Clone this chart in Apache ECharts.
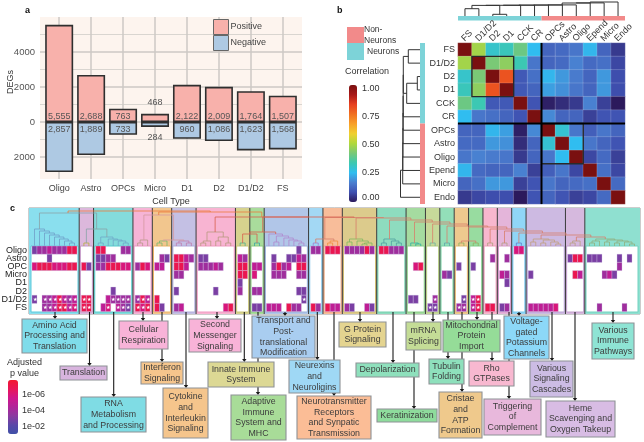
<!DOCTYPE html>
<html><head><meta charset="utf-8">
<style>html,body{margin:0;padding:0;background:#fff}#c{width:644px;height:442px}</style>
<script src="https://cdn.jsdelivr.net/npm/echarts@6/dist/echarts.min.js"></script>
</head><body><div id="c"></div>
<script>
// ---------- panel a data
const cellTypes = ['Oligo','Astro','OPCs','Micro','D1','D2','D1/D2','FS'];
const positiveDEGs = [5555,2688,763,468,2122,2009,1764,1507];
const negativeDEGs = [2857,1889,733,284,960,1086,1623,1568];
const majorTicks = [-2000,0,2000,4000];
const minorTicks = [-1000,1000,3000,5000];
// ---------- panel b data
const corrNames = ['FS','D1/D2','D2','D1','CCK','CR','OPCs','Astro','Oligo','Epend','Micro','Endo'];
const corrFS    = [1,.48,.3,.32,.4,.25,.12,.13,.15,.24,.12,.05];
const corrD1D2  = [.48,1,.42,.45,.33,.15,.12,.13,.17,.13,.14,.07];
const corrD2    = [.3,.42,1,.8,.1,.14,.24,.2,.16,.12,.2,.08];
const corrD1    = [.32,.45,.8,1,.1,.12,.21,.19,.15,.12,.2,.08];
const corrCCK   = [.4,.33,.1,.1,1,.09,.01,.03,.05,.17,.06,0];
const corrCR    = [.25,.15,.14,.12,.09,1,.18,.12,.12,.06,.09,.09];
const corrOPC   = [.12,.12,.24,.21,.01,.18,1,.29,.15,.11,.15,.12];
const corrAstro = [.13,.13,.2,.19,.03,.12,.29,1,.25,.15,.12,.09];
const corrOligo = [.15,.17,.16,.15,.05,.12,.15,.25,1,.07,.13,.06];
const corrEpend = [.24,.13,.12,.12,.17,.06,.11,.15,.07,1,.14,.07];
const corrMicro = [.12,.14,.2,.2,.06,.09,.15,.12,.13,.14,1,.13];
const corrEndo  = [.05,.07,.08,.08,0,.09,.12,.09,.06,.07,.13,1];
const corrTreeTop = [14,[13.1,[13,[11.1,[11,[10.9,[10.8,[10.7,[10.6,[7.3,0,1],[1.7,2,3]],4],5],6],7],8],9],10],11];
const corrTreeLeft = [19.5,[17.3,[17.2,[17.1,[17,[16.9,[16.8,[16.7,[11.7,0,1],[13.3,[2.7,2,3],4]],5],6],7],8],9],10],11];
const corrOutlines = [[1,1,4,4],[6,6,9,9]];
const corrDividers = [[6,0,6,12],[0,6,12,6]];
const corrGroupSpans = [[0,6,'#7dd3d8'],[6,12,'#f28a8a']];
// ---------- panel c data: each row has one text per pathway cluster; digit = -log10(adjusted p)
const pathwayRows = ['Oligo','Astro','OPC','Micro','D1','D2','D1/D2','FS'];
const rowOligo = '344544477|..|77...44|...|...|....|.......|..|..|......3.|44|777|444474|77444|...|..|..|..|..|..|..|66|.......|...|..........';
const rowAstro = '...3.....|..|3344...|...|.43|7754|33.....|54|..|.3..3354|..|...|......|.....|...|..|..|..|..|.4|.4|..|.......|377|333...3.3.';
const rowOPC   = '677766677|73|4477766|476|55.|775.|44454..|77|55|.4745.77|..|...|......|.....|.67|..|..|3.|3.|..|..|..|.......|...|......4...';
const rowMicro = '.........|..|.......|...|...|44..|.......|77|6.|.444..44|..|...|......|.....|...|..|43|..|..|..|54|..|3......|.75|...453....';
const rowD1    = '.........|..|.......|...|...|....|.......|3.|..|........|..|...|......|.....|...|..|..|..|..|..|.3|..|.......|...|..........';
const rowD2    = '.........|..|...3...|...|...|3...|...3...|4.|44|......33|..|...|......|.....|...|..|..|..|..|..|..|..|.......|...|..........';
const rowD1D2  = '3.4457545|77|..54444|475|7..|....|.......|..|..|.......3|..|...|......|.....|33.|.4|..|.3|57|..|..|..|.......|...|..........';
const rowFS    = '..4457756|77|.56.543|767|73.|45..|.....67|..|33|555.744.|74|755|43..53|.....|...|33|..|44|57|77|34|..|555556.|...|..4....4..';
const starD1D2 = '*.*******|**|...****|***|...|....|.......|..|..|.......*|..|...|......|.....|...|.*|..|.*|**|..|..|..|.......|...|..........';
const starFS   = '..*******|**|..*.***|***|...|....|.......|..|..|........|..|...|......|.....|...|**|..|**|**|..|..|..|.......|...|..........';
const clusterTrees = [
 [17,0,[15,1,[13,2,[11,3,[9,4,[7,5,[5,6,[3,7,8]]]]]]]],[3,0,1],[9,[3,0,1],[7,2,[6,3,[5,4,[3,5,6]]]]],
 [6,[3,0,1],2],[5,[3,0,1],2],[5,[3,0,1],[3,2,3]],[14,[5,[3,0,1],2],[9,[5,3,4],[3,5,6]]],[3,0,1],[3,0,1],
 [12,0,[10,[4,1,2],[8,3,[6,4,[5,5,[3,6,7]]]]]],[3,0,1],[5,[3,0,1],2],[7,[4,0,1],[5,2,[3,[2,3,4],5]]],
 [7,[3,0,1],[5,2,[3,3,4]]],[3,0,[2,1,2]],[3,0,1],[3,0,1],[3,0,1],[3,0,1],[3,0,1],[3,0,1],[3,0,1],
 [7,[4,0,1],[6,[3,2,3],[4,4,[2,5,6]]]],[5,[3,0,1],2],[7,[5,[3,0,1],2],[6,[4,3,4],[5,[3,5,6],[4,7,[2,8,9]]]]]
];
const branchFarRight = [17,'c19',[15,'c20',[13,'c21',[11,'c22',[9,'c23','c24']]]]];
const branchMidRight = [26,'c13',[24,'c14',[22,'c15',[20,'c16',[19,[5,'c17','c18'],branchFarRight]]]]];
const branchRight = [28.5,[7,'c10','c11'],[28,'c12',branchMidRight],'#d77f6c'];
const branchMid = [29,'c6',[29,[14,[12,'c7','c8'],'c9'],branchRight],'#d8604e'];
const branchLeft = [33,'c0',[17,'c1','c2'],'#8aa3a8'];
const branchInner = [31,'c3',[6,'c4','c5'],'#d59aa0'];
const clusterTreeTop = [35,branchLeft,[34,branchInner,branchMid],'#ec7a3c'];
const clusterFill = ['#8adfee','#dcb8dc','#84dcdc','#f6b4d6','#f2c68e','#c4c0e4','#f8b4d2','#d6d28e','#a9dc9c','#b1c6e8','#a3d8f4','#f8bd9a','#dccb8c','#8edcbf','#a5dba0','#c7d99a','#93dfb9','#eec98e','#98dca0','#f8b7ce','#e4b5da','#90d6f7','#cdbae2','#d6b9de','#8fe0d0'];
const clusterEdge = ['#5cc8da','#c49ac8','#56cccc','#eb97c4','#edb267','#aeaadb','#f099c2','#c8c478','#8ccb7e','#98b0da','#88c6ea','#eea67e','#cfbb70','#74cfae','#88cd86','#b4cb80','#78d2a4','#e4b872','#80cf8a','#ef9dbb','#d89ccc','#74c6ee','#b9a2d4','#c29ecc','#72d2c0'];
const clusterLine = ['#6f9fc8','#b8b040','#6fa8c8','#b89a88','#78b870','#c080b0','#b89a80','#50b090','#40a8a0','#b08ad0','#a080d0','#f09040','#80b860','#50a0a0','#30b0a0','#70b0a0','#60a8a8','#90b060','#90b060','#b0a080','#b0a080','#6080d0','#c0a080','#b8a080','#90b080'];
// ---------- pathway labels: text, x, y, w, h, fill
const pathwayBoxes = [
 ['Amino Acid\nProcessing and\nTranslation',22,319,65,34,'#7fdcea'],['Translation',60,366,47,14,'#d8b4de'],
 ['RNA\nMetabolism\nand Processing',81,397,65,35,'#7fdce4'],['Cellular\nRespiration',119,321,49,28,'#f8b3d8'],
 ['Interferon\nSignaling',141,362,42,22,'#f5c58c'],['Cytokine\nand\nInterleukin\nSignaling',163,388,45,50,'#f5c58c'],
 ['Second\nMessenger\nSignaling',189,319,52,33,'#f8b3d8'],['Innate Immune\nSystem',208,362,66,25,'#dcd894'],
 ['Transport and\nPost-\ntranslational\nModification',252,316,63,42,'#a9cdf0'],['Adaptive\nImmune\nSystem and\nMHC',231,395,55,45,'#a8dc98'],
 ['Neurexins\nand\nNeuroligins',289,360,51,33,'#9fd8f5'],['Neurotransmitter\nReceptors\nand Synpatic\nTransmission',297,396,74,43,'#fbbd96'],
 ['G Protein\nSignaling',339,322,47,25,'#e4d490'],['mRNA\nSplicing',406,322,35,28,'#c4dc96'],
 ['Mitochondrial\nProtein\nImport',443,320,57,32,'#95dc98'],['Voltage-\ngated\nPotassium\nChannels',504,316,45,43,'#8cd8f8'],
 ['Various\nImmune\nPathways',592,323,42,36,'#8ee4d4'],['Depolarization',356,363,63,14,'#8ee0bc'],
 ['Tubulin\nFolding',429,359,35,25,'#8ee0bc'],['Rho\nGTPases',469,361,45,25,'#f8b8d0'],
 ['Various\nSignaling\nCascades',530,361,43,36,'#ccbce4'],['Keratinization',377,409,60,13,'#8edc9c'],
 ['Cristae\nand\nATP\nFormation',439,392,43,46,'#efc98c'],['Triggering\nof\nComplement',484,399,57,36,'#e8b8dc'],
 ['Heme\nScavenging and\nOxygen Takeup',546,401,69,36,'#d8bce4']
];
const pathwayArrows = [[55,319],[89.5,366],[113.7,397],[143,321],[162,362],[186,388],[217,319],[244.3,362],[258,395],[285,316],[317.3,360],[334,396],[360,322],[393,363],[433,322],[414,409],[448,359],[462,392],[477,320],[492,361],[509,399],[519,316],[552,361],[575,401],[613,323]];

// ---------- helpers
const FONT = '"Liberation Sans", Arial, sans-serif';
function flatten(node, leaf, color, out){
  if(!Array.isArray(node)) return leaf(node);
  const c = node[3] || color;
  const l = flatten(node[1], leaf, c, out), r = flatten(node[2], leaf, c, out), h = node[0];
  out.push([l.p,l.h,l.p,h,c],[l.p,h,r.p,h,c],[r.p,r.h,r.p,h,c]);
  return {p:(l.p+r.p)/2, h};
}
function lineRender(segs, width, opacity){
  return (params, api)=>{
    const a = api.coord([api.value(0),api.value(1)]), b = api.coord([api.value(2),api.value(3)]);
    return {type:'line',shape:{x1:a[0],y1:a[1],x2:b[0],y2:b[1]},style:{stroke:segs[params.dataIndex][4],lineWidth:width,opacity}};
  };
}
function segSeries(segs, xi, yi, width, opacity, z){
  return {type:'custom',xAxisIndex:xi,yAxisIndex:yi,z,silent:true,clip:false,coordinateSystem:'cartesian2d',
    encode:{x:[0,2],y:[1,3]},data:segs.map(s=>s.slice(0,4)),renderItem:lineRender(segs,width,opacity)};
}
// heat b
const corrMatrix = [corrFS,corrD1D2,corrD2,corrD1,corrCCK,corrCR,corrOPC,corrAstro,corrOligo,corrEpend,corrMicro,corrEndo];
const corrCells = [];
corrMatrix.forEach((row,y)=>row.forEach((v,x)=>corrCells.push([x,y,v])));
const topSegs=[]; flatten(corrTreeTop,i=>({p:i+.5,h:0}),'#333',topSegs);
const leftSegs=[]; flatten(corrTreeLeft,i=>({p:i+.5,h:0}),'#333',leftSegs);
const leftSegsXY = leftSegs.map(s=>[s[1],s[0],s[3],s[2],s[4]]);
// cluster layout for panel c
const GAP = 0.875;
const clusterRowsCells = [rowOligo,rowAstro,rowOPC,rowMicro,rowD1,rowD2,rowD1D2,rowFS].map(s=>s.split('|'));
const clusterSizes = clusterRowsCells[0].map(s=>s.length);
const clusterStart = []; { let at=0; clusterSizes.forEach((n,i)=>{clusterStart.push(at); at+=n+GAP;}); }
const pCells=[], starCells=[];
clusterRowsCells.forEach((row,r)=>row.forEach((txt,ci)=>[...txt].forEach((ch,j)=>{
  if(ch!=='.') pCells.push([clusterStart[ci]+j,r,+ch]);
})));
[[6,starD1D2],[7,starFS]].forEach(([r,s])=>s.split('|').forEach((txt,ci)=>[...txt].forEach((ch,j)=>{
  if(ch==='*') starCells.push([clusterStart[ci]+j+.5,r+.5]);
})));
const PX_PER_ROW = 8.2;
const clusterSegs=[]; const roots={};
clusterTrees.forEach((t,ci)=>{
  const raw=[]; const rt=flatten(t,j=>({p:clusterStart[ci]+j+.5,h:0}),clusterLine[ci],raw);
  roots['c'+ci]=rt; raw.forEach(s=>clusterSegs.push(s));
});
flatten(clusterTreeTop,k=>roots[k],'#c8906e',clusterSegs);
const cSegs = clusterSegs.map(s=>[s[0],-s[1]/PX_PER_ROW,s[2],-s[3]/PX_PER_ROW,s[4]]);
const bands = clusterSizes.map((n,i)=>[clusterStart[i],clusterStart[i]+n,i]);

const Y_TOP=-38/PX_PER_ROW, Y_BOT=68/PX_PER_ROW;
const hiddenVal = (o)=>Object.assign({type:'value',show:false,splitLine:{show:false},scale:false},o);

const option = {
  animation:false, backgroundColor:'#fff', textStyle:{fontFamily:FONT},
  grid:[
    {left:40,top:17,width:262,height:162,show:true,backgroundColor:'#fdf4ee',borderWidth:0},
    {left:458,top:43,width:167,height:161},
    {left:458,top:1,width:167,height:20},
    {left:400,top:43,width:25,height:161},
    {left:29,top:208,width:611,height:106,show:true,backgroundColor:'transparent',borderColor:'#9a9a9a',borderWidth:1},
    {left:458,top:43,width:167,height:161}
  ],
  xAxis:[
    {gridIndex:0,type:'value',min:-0.6,max:7.6,splitLine:{show:false},axisLine:{show:false},
     axisTick:{show:true,length:3,customValues:[0,1,2,3,4,5,6,7],lineStyle:{color:'#777'}},
     axisLabel:{customValues:[0,1,2,3,4,5,6,7],formatter:v=>cellTypes[v],fontSize:9,color:'#444',margin:5,hideOverlap:false},
     name:'Cell Type',nameLocation:'middle',nameGap:18,nameTextStyle:{fontSize:9,color:'#333'}},
    {gridIndex:1,type:'category',position:'top',data:corrNames,axisLine:{show:false},axisTick:{show:false},axisLabel:{show:false}},
    hiddenVal({gridIndex:2,min:0,max:12}),
    hiddenVal({gridIndex:3,min:-5,max:20,inverse:true}),
    {gridIndex:4,type:'value',min:-0.6,max:121.6,show:false,splitLine:{show:false}},
    hiddenVal({gridIndex:5,min:0,max:12})
  ],
  yAxis:[
    {gridIndex:0,type:'value',min:-3257,max:6000,splitLine:{show:false},axisLine:{show:false},
     axisTick:{show:true,length:3,customValues:majorTicks,lineStyle:{color:'#777'}},
     axisLabel:{customValues:majorTicks,formatter:v=>String(Math.abs(v)),fontSize:9.5,color:'#555',margin:5}},
    {gridIndex:1,type:'category',inverse:true,data:corrNames,axisLine:{show:false},axisTick:{show:false},
     axisLabel:{fontSize:9,color:'#333',margin:3,interval:0}},
    hiddenVal({gridIndex:2,min:-5,max:15}),
    hiddenVal({gridIndex:3,min:0,max:12,inverse:true}),
    {gridIndex:4,type:'value',inverse:true,min:Y_TOP,max:Y_BOT,show:false,splitLine:{show:false}},
    hiddenVal({gridIndex:5,min:0,max:12,inverse:true})
  ],
  visualMap:[
    {type:'continuous',seriesIndex:3,min:0,max:1,left:349,top:85,itemWidth:8,itemHeight:117,padding:0,calculable:false,
     hoverLink:false,
     inRange:{color:['#2c1a5c','#3f50b0','#4a7fd0','#30bdf0','#3cc8b0','#78c878','#b0d83c','#f0d030','#f8a028','#f07020','#e84020','#a81818','#7a1010']},
     textStyle:{color:'transparent'}},
    {type:'continuous',seriesIndex:11,min:1.1,max:7.9,left:8,top:380,itemWidth:10,itemHeight:54,padding:0,calculable:false,
     hoverLink:false,inRange:{color:['#3f50a8','#5a48a8','#8a3aa0','#b0249a','#d0168c','#e81658','#f3172f']},
     textStyle:{color:'transparent'}}
  ],
  legend:{left:213,top:19,orient:'vertical',itemGap:0,itemWidth:15,itemHeight:15,padding:0,icon:'rect',
    textStyle:{fontSize:9,color:'#444',padding:[0,0,0,-3]},
    data:[{name:'Positive',itemStyle:{borderColor:'#666',borderWidth:1}},{name:'Negative',itemStyle:{borderColor:'#666',borderWidth:1}}]},
  series:[
    // 0: grid lines for panel a
    {type:'line',xAxisIndex:0,yAxisIndex:0,data:[],z:1,silent:true,symbol:'none',
     markLine:{silent:true,symbol:'none',label:{show:false},animation:false,z:1,data:[
       ...majorTicks.map(v=>({yAxis:v,lineStyle:{color:'#cdc9c5',width:1.5,type:'solid'}})),
       ...minorTicks.map(v=>({yAxis:v,lineStyle:{color:'#d9d5d0',width:1,type:'solid'}})),
       ...cellTypes.map((_,i)=>({xAxis:i,lineStyle:{color:'#cdc9c5',width:1.5,type:'solid'}}))
     ]}},
    // 1,2: bars
    {name:'Positive',type:'bar',xAxisIndex:0,yAxisIndex:0,stack:'deg',barWidth:28,z:3,
     itemStyle:{color:'#f8b1ab',borderColor:'#2f2f2f',borderWidth:1.6},
     data:positiveDEGs.map((v,i)=>({value:[i,v],label:v<500?{position:'top',distance:7}:{}})),
     label:{show:true,position:'insideBottom',distance:1,fontSize:9,color:'#555',formatter:p=>p.value[1].toLocaleString('en-US')}},
    {name:'Negative',type:'bar',xAxisIndex:0,yAxisIndex:0,stack:'deg',barWidth:28,z:3,
     itemStyle:{color:'#aec9e3',borderColor:'#2f2f2f',borderWidth:1.6},
     data:negativeDEGs.map((v,i)=>({value:[i,-v],label:v<500?{position:'bottom',distance:6}:{}})),
     label:{show:true,position:'insideTop',distance:3,fontSize:9,color:'#555',formatter:p=>Math.abs(p.value[1]).toLocaleString('en-US')}},
    // 3: correlation heat map
    {type:'heatmap',xAxisIndex:1,yAxisIndex:1,data:corrCells,z:2,itemStyle:{borderColor:'rgba(255,255,255,.35)',borderWidth:.5}},
    // 4,5: panel b dendrograms
    segSeries(topSegs,2,2,1,1,2),
    segSeries(leftSegsXY,3,3,1,1,2),
    // 6: top group bar
    {type:'custom',xAxisIndex:2,yAxisIndex:2,z:2,silent:true,clip:false,data:corrGroupSpans.map(s=>s.slice(0,2)),encode:{x:[0,1]},
     renderItem:(p,api)=>{const a=api.coord([api.value(0),0]),b=api.coord([api.value(1),-4.6]);
       return {type:'rect',shape:{x:a[0],y:a[1],width:b[0]-a[0],height:b[1]-a[1]},style:{fill:corrGroupSpans[p.dataIndex][2]}};}},
    // 7: left group bar
    {type:'custom',xAxisIndex:3,yAxisIndex:3,z:2,silent:true,clip:false,data:corrGroupSpans.map(s=>s.slice(0,2)),encode:{y:[0,1]},
     renderItem:(p,api)=>{const a=api.coord([0,api.value(0)]),b=api.coord([-5,api.value(1)]);
       return {type:'rect',shape:{x:a[0],y:a[1],width:b[0]-a[0],height:b[1]-a[1]},style:{fill:corrGroupSpans[p.dataIndex][2]}};}},
    // 8: outlined squares on the heat map
    {type:'custom',xAxisIndex:5,yAxisIndex:5,z:5,silent:true,clip:false,data:corrOutlines,encode:{x:[0,2],y:[1,3]},
     renderItem:(p,api)=>{const a=api.coord([api.value(0),api.value(1)]),b=api.coord([api.value(2),api.value(3)]);
       return {type:'rect',shape:{x:a[0],y:a[1],width:b[0]-a[0],height:b[1]-a[1]},style:{fill:'none',stroke:'#2a2a2a',lineWidth:1.4}};}},
    // 9: dividers
    {type:'custom',xAxisIndex:5,yAxisIndex:5,z:5,silent:true,clip:false,data:corrDividers,encode:{x:[0,2],y:[1,3]},
     renderItem:(p,api)=>{const a=api.coord([api.value(0),api.value(1)]),b=api.coord([api.value(2),api.value(3)]);
       return {type:'line',shape:{x1:a[0],y1:a[1],x2:b[0],y2:b[1]},style:{stroke:'#000',lineWidth:2}};}},
    // 10: cluster bands
    {type:'custom',xAxisIndex:4,yAxisIndex:4,z:1,silent:true,clip:false,data:bands,encode:{x:[0,1]},
     renderItem:(p,api)=>{
       const s=api.value(0),e=api.value(1),i=api.value(2),last=i===bands.length-1;
       const L=i===0?-0.6:s-GAP/2, R=last?121.6:e+GAP/2;
       const tl=api.coord([L,Y_TOP]),br=api.coord([R,Y_BOT]);
       const wt=api.coord([s-.2,0]),wb=api.coord([e+.2,8.05]);
       const kids=[
         {type:'rect',shape:{x:tl[0],y:tl[1],width:br[0]-tl[0],height:br[1]-tl[1]},style:{fill:clusterFill[i]}},
         {type:'rect',shape:{x:wt[0],y:wt[1],width:wb[0]-wt[0],height:wb[1]-wt[1]},style:{fill:'#fff',stroke:clusterEdge[i],lineWidth:1}}
       ];
       if(i>0) kids.push({type:'line',shape:{x1:tl[0],y1:tl[1],x2:tl[0],y2:br[1]},style:{stroke:'#3a3a3a',lineWidth:1}});
       return {type:'group',children:kids};
     }},
    // 11: pathway cells
    {type:'custom',xAxisIndex:4,yAxisIndex:4,z:4,silent:true,clip:false,data:pCells,encode:{x:0,y:1},
     renderItem:(p,api)=>{const a=api.coord([api.value(0),api.value(1)]),b=api.coord([api.value(0)+1,api.value(1)+1]);
       return {type:'rect',shape:{x:a[0],y:a[1],width:b[0]-a[0],height:b[1]-a[1]},style:{fill:api.visual('color'),stroke:'rgba(205,195,230,.7)',lineWidth:.5}};}},
    // 12: stars
    {type:'custom',xAxisIndex:4,yAxisIndex:4,z:5,silent:true,clip:false,data:starCells,encode:{x:0,y:1},
     renderItem:(p,api)=>{const a=api.coord([api.value(0),api.value(1)]);
       return {type:'text',style:{x:a[0],y:a[1],text:'★',fill:'#fff',fontSize:5,align:'center',verticalAlign:'middle'}};}},
    // 13: cluster dendrogram
    segSeries(cSegs,4,4,1,.8,3),
    // 14: row names of panel c, every one kept (they sit tighter than their own height)
    {type:'custom',xAxisIndex:4,yAxisIndex:4,z:5,silent:true,clip:false,data:pathwayRows.map((_,i)=>[-0.6,i+.5]),encode:{x:0,y:1},
     renderItem:(p,api)=>{const a=api.coord([api.value(0),api.value(1)]);
       return {type:'text',x:a[0]-2,y:a[1],style:{text:pathwayRows[p.dataIndex],fill:'#222',fontSize:9,fontFamily:FONT,align:'right',verticalAlign:'middle'}};}},
    // 15: slanted column names of panel b
    {type:'custom',xAxisIndex:5,yAxisIndex:5,z:5,silent:true,clip:false,data:corrNames.map((_,i)=>[i+.5,0]),encode:{x:0,y:1},
     renderItem:(p,api)=>{const a=api.coord([api.value(0),api.value(1)]);
       return {type:'text',x:a[0]-2,y:a[1]-3,rotation:Math.PI/4,style:{text:corrNames[p.dataIndex],fill:'#333',fontSize:9,fontFamily:FONT,align:'left',verticalAlign:'middle'}};}}
  ],
  graphic:[]
};
// ---------- annotation text (letters, legends, pathway boxes)
const g=[];
const T=(text,x,y,o={})=>g.push({type:'text',x,y,z:60,style:Object.assign({text,fill:'#333',fontFamily:FONT,fontSize:9,verticalAlign:'middle'},o)});
T('a',25,11,{fontWeight:'bold',fill:'#111'}); T('b',337,11,{fontWeight:'bold',fill:'#111'}); T('c',10,209,{fontWeight:'bold',fill:'#111'});
g.push({type:'text',x:11,y:82,rotation:Math.PI/2,z:60,style:{text:'DEGs',fontSize:9,fontFamily:FONT,fill:'#333',align:'center',verticalAlign:'middle'}});
g.push({type:'rect',z:60,shape:{x:347,y:27,width:17,height:16},style:{fill:'#f28a8a'}});
g.push({type:'rect',z:60,shape:{x:347,y:43,width:17,height:17},style:{fill:'#7dd3d8'}});
T('Non-\nNeurons',364,35,{lineHeight:11,fontSize:8.5}); T('Neurons',367,52,{fontSize:8.5});
T('Correlation',345,72,{fontSize:9});
[['1.00',89],['0.75',117],['0.50',145],['0.25',173],['0.00',198]].forEach(([t,y])=>T(t,362,y,{fontSize:9}));
T('Adjusted',7,363,{fontSize:9}); T('p value',10,374,{fontSize:9});
[['1e-06',395],['1e-04',411],['1e-02',427]].forEach(([t,y])=>T(t,22,y,{fontSize:9}));
pathwayArrows.forEach(([x,y])=>{
  g.push({type:'line',z:55,shape:{x1:x,y1:312,x2:x,y2:y-2},style:{stroke:'#1a1a1a',lineWidth:1.1}});
  g.push({type:'polygon',z:55,shape:{points:[[x-2.2,y-3],[x+2.2,y-3],[x,y]]},style:{fill:'#1a1a1a'}});
});
pathwayBoxes.forEach(([text,x,y,w,h,fill])=>{
  g.push({type:'rect',z:56,shape:{x,y,width:w,height:h},style:{fill,stroke:'#8e9296',lineWidth:1.1}});
  g.push({type:'text',z:57,x:x+w/2,y:y+h/2,style:{text,fill:'#3c3c3c',fontFamily:FONT,fontSize:8.8,lineHeight:10.7,align:'center',verticalAlign:'middle'}});
});
option.graphic=g;
const chart=echarts.init(document.getElementById('c'),null,{renderer:'canvas'});
chart.setOption(option);
</script></body></html>
